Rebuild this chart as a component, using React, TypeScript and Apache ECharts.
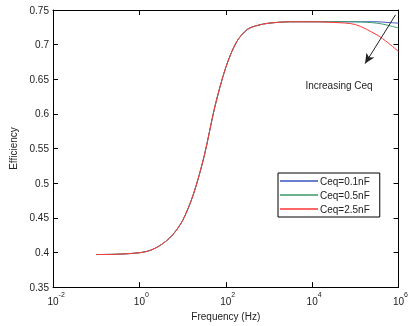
import React, { useEffect, useRef } from "react";
import * as echarts from "echarts";

const frequencies = [0.1, 0.316, 1, 1.78, 3.16, 5.62, 10, 17.8, 31.6, 56.2, 100, 178, 316, 562, 1000, 3162, 10000, 31623, 100000, 316228, 562341, 1000000];
const effBlue = [0.397, 0.3975, 0.3996, 0.403, 0.411, 0.424, 0.446, 0.484, 0.539, 0.611, 0.667, 0.704, 0.722, 0.728, 0.731, 0.733, 0.733, 0.733, 0.733, 0.733, 0.732, 0.731];
const effGreen = [0.397, 0.3975, 0.3996, 0.403, 0.411, 0.424, 0.446, 0.484, 0.539, 0.611, 0.667, 0.704, 0.722, 0.728, 0.731, 0.733, 0.733, 0.733, 0.733, 0.731, 0.728, 0.724];
const effRed = [0.397, 0.3975, 0.3996, 0.403, 0.411, 0.424, 0.446, 0.484, 0.539, 0.611, 0.667, 0.704, 0.722, 0.728, 0.731, 0.733, 0.733, 0.732, 0.729, 0.714, 0.703, 0.690];
const seriesNames = ["Ceq=0.1nF", "Ceq=0.5nF", "Ceq=2.5nF"];
const seriesColors = ["#3a55c0", "#3a9a6a", "#ff3535"];
const arrowStart = [851000, 0.743];
const arrowEnd = [168000, 0.6726];
const annotationText = "Increasing Ceq";

const FONT = "Liberation Sans, Arial, sans-serif";

export default function App() {
  const ref = useRef<HTMLDivElement>(null);
  useEffect(() => {
    document.body.style.margin = "0";
    const chart = echarts.init(ref.current!, null, { renderer: "svg" });
    const mk = (vals: number[]) => frequencies.map((f, i) => [f, vals[i]]);
    const tickCommon = { show: true, inside: true, length: 5, lineStyle: { color: "#000" } };
    const lineCommon = { show: true, onZero: false, lineStyle: { color: "#000", width: 1 } };
    const datas = [effBlue, effGreen, effRed];
    chart.setOption({
      animation: false,
      textStyle: { fontFamily: FONT },
      grid: { left: 53, top: 10, width: 353, height: 277.5 },
      legend: {
        orient: "vertical",
        left: 278,
        top: 173,
        backgroundColor: "#fff",
        borderColor: "#000",
        borderWidth: 1,
        borderRadius: 0,
        padding: [3, 10, 3, 2],
        itemGap: 4,
        itemWidth: 38,
        itemHeight: 1.5,
        icon: "rect",
        textStyle: { fontSize: 10, color: "#222", fontFamily: FONT, padding: [0, 0, 0, -3] },
        data: seriesNames,
      },
      xAxis: [
        {
          type: "log",
          logBase: 10,
          min: 0.01,
          max: 1000000,
          interval: 2,
          name: "Frequency (Hz)",
          nameLocation: "middle",
          nameGap: 21,
          nameTextStyle: { fontSize: 10, color: "#222", fontFamily: FONT },
          axisLine: lineCommon,
          axisTick: tickCommon,
          minorTick: { show: false },
          splitLine: { show: false },
          axisLabel: {
            margin: 4,
            showMaxLabel: true,
            showMinLabel: true,
            formatter: (v: number) => {
              const e = Math.round(Math.log10(v));
              return `{h|${e}}{b|10}{s|${e}}`;
            },
            rich: {
              h: { fontSize: 7, color: "rgba(0,0,0,0)", verticalAlign: "top", lineHeight: 8, fontFamily: FONT },
              b: { fontSize: 10, color: "#222", verticalAlign: "bottom", lineHeight: 15, fontFamily: FONT },
              s: { fontSize: 7, color: "#222", verticalAlign: "top", lineHeight: 8, fontFamily: FONT },
            },
          },
        },
        {
          type: "log",
          logBase: 10,
          min: 0.01,
          max: 1000000,
          interval: 2,
          position: "top",
          axisLine: lineCommon,
          axisTick: tickCommon,
          axisLabel: { show: false },
          splitLine: { show: false },
        },
      ],
      yAxis: [
        {
          type: "value",
          min: 0.35,
          max: 0.75,
          interval: 0.05,
          name: "Efficiency",
          nameLocation: "middle",
          nameGap: 28,
          nameTextStyle: { fontSize: 10, color: "#222", fontFamily: FONT },
          axisLine: lineCommon,
          axisTick: tickCommon,
          splitLine: { show: false },
          axisLabel: {
            margin: 4,
            fontSize: 10,
            color: "#222",
            formatter: (v: number) => String(parseFloat(v.toFixed(2))),
          },
        },
        {
          type: "value",
          min: 0.35,
          max: 0.75,
          interval: 0.05,
          position: "right",
          axisLine: lineCommon,
          axisTick: tickCommon,
          axisLabel: { show: false },
          splitLine: { show: false },
        },
      ],
      series: seriesNames.map((name, i) => ({
        name,
        type: "line",
        data: mk(datas[i]),
        showSymbol: false,
        smooth: 0.3,
        color: seriesColors[i],
        lineStyle: { width: 1, color: seriesColors[i] },
        z: 2 + i,
        markLine:
          i === 2
            ? {
                silent: true,
                symbol: ["none", "arrow"],
                symbolSize: [7, 10],
                label: { show: false },
                lineStyle: { color: "#222", width: 1, type: "solid" },
                data: [[{ coord: arrowStart }, { coord: arrowEnd }]],
              }
            : undefined,
      })),
      graphic: [
        {
          type: "text",
          x: 339,
          y: 85,
          style: {
            text: annotationText,
            fontSize: 10,
            fill: "#222",
            fontFamily: FONT,
            align: "center",
            verticalAlign: "middle",
          },
        },
      ],
    });
    return () => chart.dispose();
  }, []);
  return <div ref={ref} style={{ position: "fixed", left: 0, top: 0, width: 411, height: 326 }} />;
}
